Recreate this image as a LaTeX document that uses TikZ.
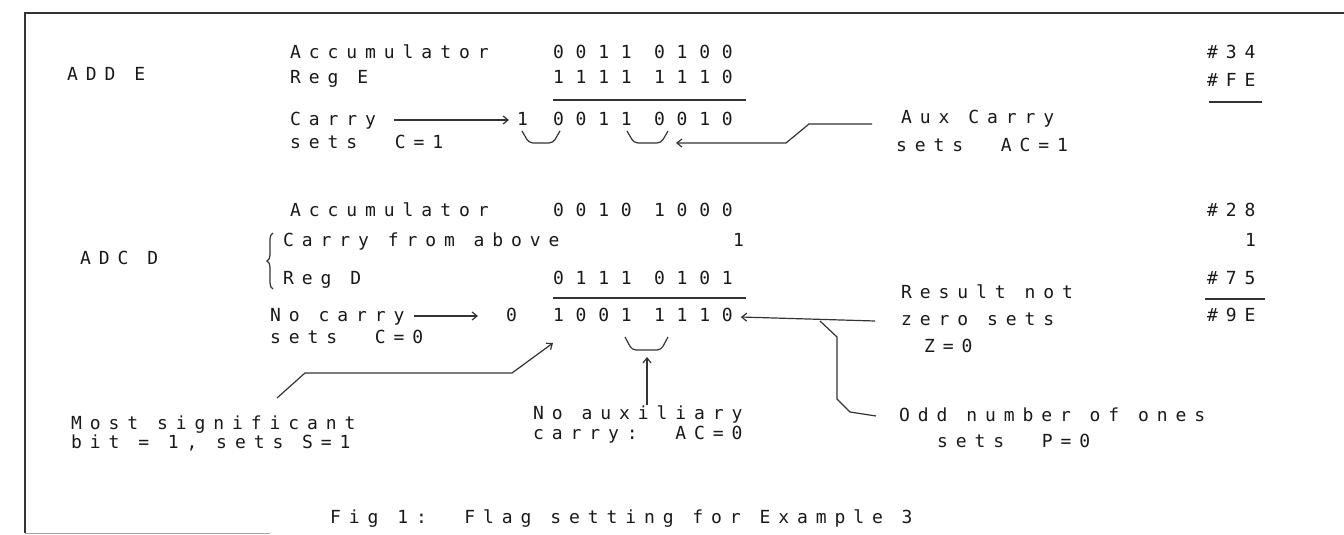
\documentclass[tikz,border=0pt]{standalone}
\usepackage{fontspec}
\newfontfamily\lblfont[LetterSpace=44]{DejaVu Sans Mono}
\newfontfamily\bitfont[LetterSpace=65]{DejaVu Sans Mono}
\usetikzlibrary{arrows.meta,decorations.pathreplacing}
\tikzset{
  lbl/.style={anchor=base west,inner sep=0pt,text=black!90,font={\lblfont\fontsize{18}{20}\selectfont}},
  bits/.style={anchor=base west,inner sep=0pt,text=black!90,font={\bitfont\fontsize{18}{20}\selectfont}},
  rule/.style={line width=1.2pt,black!80},
  ptr/.style={rule,-{Straight Barb[length=5pt,width=8pt]}},
  cup/.style={rule,rounded corners=4pt},
}
\begin{document}
\begin{tikzpicture}[x=1pt,y=-1pt]
\useasboundingbox (0,0) rectangle (1344,535);
% frame
\draw[line width=2pt,black!80] (25,533) -- (25,13) -- (1344,13);
\draw[line width=1pt,black!35] (25,533) -- (270,533);

% ADD E
\node[lbl] (adde) at (67,81) {ADD E};
\node[lbl] (acc1) at (290,59) {Accumulator};
\node[bits] (acc1v) at (553,59) {0011 0100};
\node[lbl] (rege) at (290,84) {Reg E};
\node[bits] (regev) at (553,84) {1111 1110};
\draw[rule] (553,100) -- (746,100);
\node[lbl] (carry1) at (290,125) {Carry};
\node[bits] (c1bit) at (517,125) {1};
\node[bits] (res1) at (553,125) {0011 0010};
\node[lbl] (sets1) at (290,148) {sets\ \ C=1};
\draw[ptr,shorten <=18pt,shorten >=8pt] ([yshift=5pt]carry1.base east) -- ([yshift=5pt]c1bit.base west);
\draw[cup] (522,131) -- (529,143) -- (553,143) -- (560,131);
\draw[cup] (627,131) -- (634,143) -- (661,143) -- (668,131);
\node[lbl] (aux) at (901,123) {Aux Carry};
\node[lbl] (auxsets) at (896,151) {sets\ \ AC=1};
\coordinate (auxtip) at (676,143);
\draw[ptr] ([xshift=-29pt,yshift=-1pt]aux.base west) -- ++(-63,0) -- ++(-23,19) -- (auxtip);
\node[lbl] (h34) at (1207,59) {\#34};
\node[lbl] (hfe) at (1207,86) {\#FE};
\draw[rule] (1209,102) -- (1262,102);

% ADC D
\node[lbl] (adcd) at (80,264) {ADC D};
\node[lbl] (acc2) at (290,216) {Accumulator};
\node[bits] (acc2v) at (553,216) {0010 1000};
\node[lbl] (cfa) at (283,246) {Carry from above};
\node[bits] (cfav) at (733,246) {1};
\node[lbl] (regd) at (283,284) {Reg D};
\node[bits] (regdv) at (553,284) {0111 0101};
\draw[decorate,decoration={brace,amplitude=6pt},rule] (273,289) -- (273,233);
\draw[rule] (553,298) -- (746,298);
\node[lbl] (nocarry) at (270,321) {No carry};
\node[bits] (zero) at (506,321) {0};
\node[bits] (res2) at (553,321) {1001 1110};
\node[lbl] (sets2) at (270,343) {sets\ \ C=0};
\draw[ptr,shorten <=9pt,shorten >=28pt] ([yshift=5pt]nocarry.base east) -- ([yshift=5pt]zero.base west);
\draw[cup] (625,337) -- (632,350) -- (661,350) -- (668,337);
\node[lbl] (h28) at (1207,216) {\#28};
\node[lbl] (h1) at (1245,246) {1};
\node[lbl] (h75) at (1207,284) {\#75};
\draw[rule] (1205,299) -- (1265,299);
\node[lbl] (h9e) at (1207,321) {\#9E};

% flag notes
\node[lbl] (rnot) at (901,298) {Result not};
\node[lbl] (zsets) at (901,325) {zero sets};
\node[lbl] (zflag) at (924,352) {Z=0};
\coordinate (rfrom) at ([xshift=-26pt,yshift=4pt]zsets.base west);
\coordinate (rtip) at ([xshift=8pt,yshift=4pt]res2.base east);
\draw[ptr] (rfrom) -- (rtip);
\node[lbl] (odd) at (899,421) {Odd number of ones};
\node[lbl] (psets) at (937,447) {sets\ \ P=0};
\draw[rule] ([xshift=-55pt]rfrom) -- ++(17,16) -- ++(0,62) -- ++(13,13) -- ([xshift=-23pt,yshift=5pt]odd.base west);
\node[lbl] (msb) at (71,429) {Most significant};
\node[lbl] (msbbit) at (71,448) {bit = 1, sets S=1};
\coordinate (msbtail) at (277,398);
\coordinate (msbtip) at ([yshift=-22pt]res2.base west);
\draw[ptr] (msbtail) -- ++(28,-25) -- ++(207,0) -- (msbtip);
\node[lbl] (noaux) at (533,419) {No auxiliary};
\node[lbl] (noacc) at (533,439) {carry:\ \ AC=0};
\coordinate (acup) at (647,357);
\draw[ptr] (acup |- noaux.north) -- (acup);

% caption
\node[lbl] (caption) at (330,523) {Fig 1:\ \ Flag setting for Example 3};
\end{tikzpicture}
\end{document}
